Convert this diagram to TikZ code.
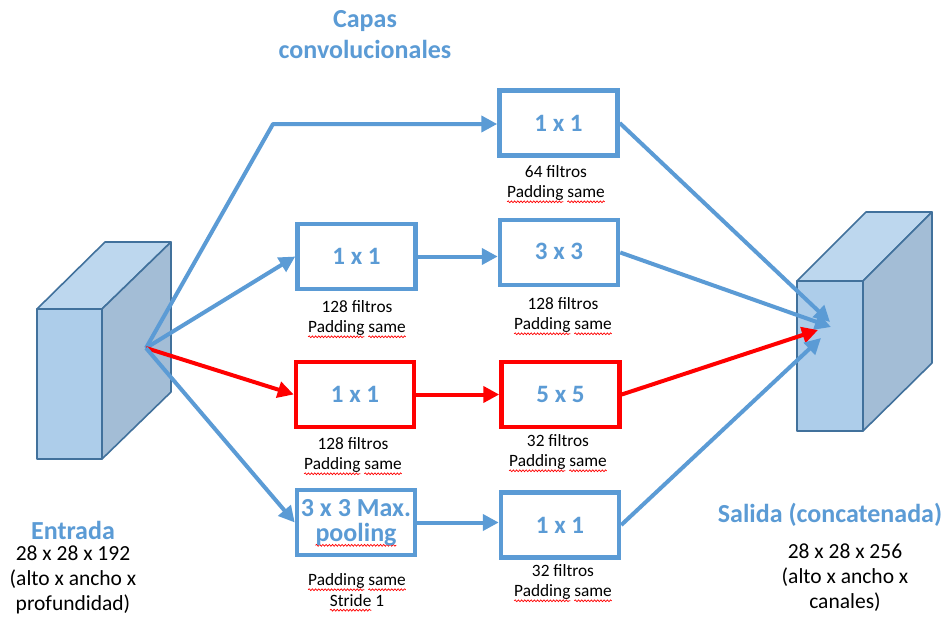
\documentclass[tikz,border=0pt]{standalone}
\usepackage{fontspec}
\setmainfont{Carlito}
\usetikzlibrary{arrows.meta,decorations.pathmorphing}

% red wavy underline for flagged words
\newsavebox\wordbox
\newdimen\wordwd
\newcommand\spellmark[1]{%
  \sbox\wordbox{#1}\wordwd=\wd\wordbox
  \leavevmode\rlap{\tikz[overlay,baseline=0pt,x=1pt,y=1pt]
    \draw[red, line width=0.7pt, decorate,
      decoration={snake, amplitude=0.9pt, segment length=3.2pt}] (0,-4) -- (\wordwd,-4);}%
  \usebox\wordbox}

\definecolor{accent}{HTML}{5B9BD5}
\definecolor{hotred}{HTML}{FF0000}
\definecolor{edgeblue}{HTML}{41719C}
\definecolor{cubefront}{HTML}{ADCDEA}
\definecolor{cubetop}{HTML}{BDD7EE}
\definecolor{cubeside}{HTML}{A3BDD6}

\tikzset{
  layer/.style={draw=accent, line width=4.5pt, minimum width=118pt, minimum height=65pt,
    inner sep=0pt, text=accent, font=\bfseries\fontsize{25}{28}\selectfont, align=center},
  hotlayer/.style={layer, draw=hotred},
  flow/.style={draw=accent, line width=4pt, -{Triangle[length=16pt,width=16pt]}},
  hotflow/.style={flow, draw=hotred, fill=hotred},
  note/.style={font=\fontsize{17.3}{20.5}\selectfont, align=center, inner sep=0pt},
  heading/.style={text=accent, font=\bfseries\fontsize{26}{31}\selectfont, align=center, inner sep=0pt},
  dims/.style={font=\fontsize{21.5}{25}\selectfont, align=center, inner sep=0pt},
  face/.style={draw=edgeblue, line width=1.6pt, line join=round},
}

\begin{document}
\begin{tikzpicture}[x=1pt, y=-1pt]
\useasboundingbox (0,0) rectangle (946,621);
\fill[white] (0,0) rectangle (946,621);

% input volume
\filldraw[face, fill=cubefront] (37,309) rectangle (102,459);
\filldraw[face, fill=cubetop] (37,309) -- (105,242) -- (171,242) -- (102,309) -- cycle;
\filldraw[face, fill=cubeside] (102,309) -- (171,242) -- (171,392) -- (102,459) -- cycle;

% output volume
\filldraw[face, fill=cubefront] (797,281) rectangle (863,431);
\filldraw[face, fill=cubetop] (797,281) -- (866,212) -- (932,212) -- (863,281) -- cycle;
\filldraw[face, fill=cubeside] (863,281) -- (932,212) -- (932,363) -- (863,431) -- cycle;

\coordinate (src) at (146,348);
\coordinate (bend) at (273,124);
\coordinate (inA) at (830,322);
\coordinate (inB) at (831,327);
\coordinate (inC) at (818,330);
\coordinate (inD) at (821,338);

% convolution layers
\node[layer] (topone) at (558.5,123) {1 x 1};
\node[layer] (redone) at (356.5,256.5) {1 x 1};
\node[layer] (three) at (559,252.5) {\raisebox{3pt}{3 x 3}};
\node[hotlayer] (redtwo) at (355,394.5) {1 x 1};
\node[hotlayer] (five) at (560.5,394.5) {5 x 5};
\node[layer, font=\bfseries\fontsize{26}{28}\selectfont] (pool) at (356,522.5) {3 x 3 Max.\\[-3pt]\spellmark{pooling}};
\node[layer] (last) at (560,525) {1 x 1};

% layer notes
\node[note] (n1) at (556,183) {64 filtros\\\spellmark{Padding} \spellmark{same}};
\node[note] (n2) at (357,318) {128 filtros\\\spellmark{Padding} \spellmark{same}};
\node[note] (n3) at (563,315) {128 filtros\\\spellmark{Padding} \spellmark{same}};
\node[note] (n4) at (353,455) {128 filtros\\\spellmark{Padding} \spellmark{same}};
\node[note] (n5) at (558,452) {32 filtros\\\spellmark{Padding} \spellmark{same}};
\node[note] (n6) at (357,590) {\spellmark{Padding} \spellmark{same}\\\spellmark{Stride} 1};
\node[note] (n7) at (563,582) {32 filtros\\\spellmark{Padding} \spellmark{same}};

% titles
\node[heading] (title) at (365,35) {Capas\\convolucionales};
\node[heading] (inname) at (73,530) {Entrada};
\node[dims] (indims) at (73,580) {28 x 28 x 192\\(alto x ancho x\\profundidad)};
\node[heading] (outname) at (830,515) {Salida (concatenada)};
\node[dims] (outdims) at (845,578) {28 x 28 x 256\\(alto x ancho x\\canales)};

% connectors
\draw[flow, line join=round] (src) -- (bend) -- (topone.west |- bend);
\draw[flow] (src) -- (redone.west);
\draw[hotflow] (src) -- (redtwo.west);
\draw[flow] (src) -- (pool.west);
\draw[flow] (redone.east) -- (three.west |- redone.east);
\draw[hotflow] (redtwo.east) -- (five.west);
\draw[flow] (pool.east) -- (last.west |- pool.east);
\draw[flow] (topone.east) -- (inA);
\draw[flow] (three.east) -- (inB);
\draw[hotflow] (five.east) -- (inC);
\draw[flow] (last.east) -- (inD);
\end{tikzpicture}
\end{document}
